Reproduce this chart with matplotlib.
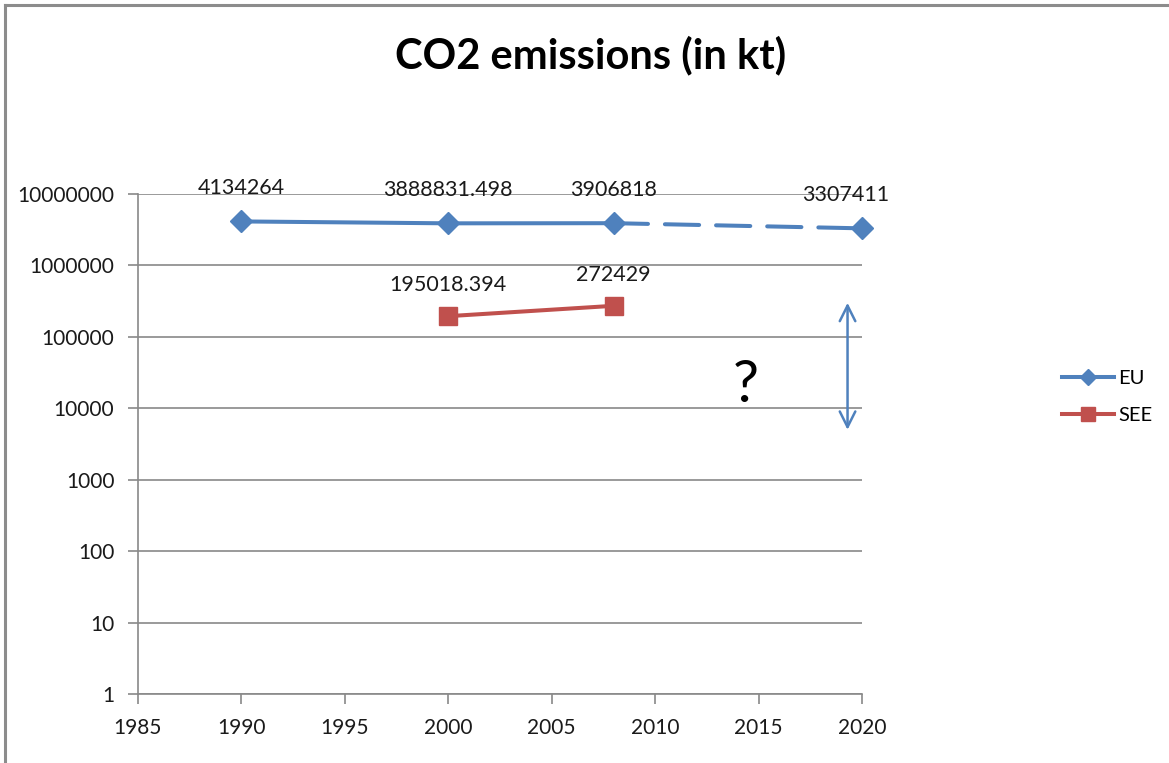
import matplotlib.pyplot as plt
from matplotlib.lines import Line2D
from matplotlib.ticker import FixedLocator, FuncFormatter

plt.rcParams['font.family'] = ['Lato', 'DejaVu Sans']

# EU emissions, solid up to 2008, projected after that
eu_years = [1990, 2000, 2008, 2020]
eu_values = [4134264, 3888831.498, 3906818, 3307411]
eu_labels = ['4134264', '3888831.498', '3906818', '3307411']

see_years = [2000, 2008]
see_values = [195018.394, 272429]
see_labels = ['195018.394', '272429']

x_ticks = [1985, 1990, 1995, 2000, 2005, 2010, 2015, 2020]
y_ticks = [1, 10, 100, 1000, 10000, 100000, 1000000, 10000000]

blue = '#4F81BD'
red = '#C0504D'
grid_gray = '#898989'

fig = plt.figure(figsize=(11.69, 7.63), dpi=100)
ax = fig.add_axes([0.118, 0.0904, 0.6194, 0.6553])

# solid part and dashed projection
ax.plot(eu_years[:3], eu_values[:3], color=blue, lw=2.9, solid_capstyle='round', zorder=3)
ax.plot(eu_years[2:], eu_values[2:], color=blue, lw=2.9, dashes=(8.5, 4.2),
        dash_capstyle='round', zorder=3, clip_on=False)
ax.plot(eu_years, eu_values, ls='none', marker='D', ms=11, color=blue, zorder=4,
        clip_on=False)
ax.plot(see_years, see_values, color=red, lw=2.9, marker='s', ms=13, zorder=4)

for x, y, t in zip(eu_years, eu_values, eu_labels):
    dx = -12 if x == 2020 else 0
    ax.annotate(t, (x, y), xytext=(dx, 17), textcoords='offset points',
                ha='center', va='bottom', fontsize=15.5, color='#1a1a1a')
for x, y, t in zip(see_years, see_values, see_labels):
    ax.annotate(t, (x, y), xytext=(0, 15), textcoords='offset points',
                ha='center', va='bottom', fontsize=15.5, color='#1a1a1a')

# uncertainty range for 2020
ax.annotate('', xy=(2019.3, 5000), xytext=(2019.3, 300000),
            arrowprops=dict(arrowstyle='<->', color=blue, lw=1.8,
                            mutation_scale=28, shrinkA=0, shrinkB=0))
ax.text(2014.4, 21000, '?', fontsize=42, ha='center', va='center', color='black')

ax.set_yscale('log')
ax.set_xlim(1985, 2020)
ax.set_ylim(1, 10000000)
ax.yaxis.set_major_locator(FixedLocator(y_ticks))
ax.yaxis.set_minor_locator(FixedLocator([]))
ax.yaxis.set_major_formatter(FuncFormatter(lambda v, p: '%d' % round(v)))
ax.set_xticks(x_ticks)

ax.grid(axis='y', color=grid_gray, lw=1.2)
ax.set_axisbelow(True)
for s in ['top', 'right']:
    ax.spines[s].set_visible(False)
for s in ['left', 'bottom']:
    ax.spines[s].set_color(grid_gray)
    ax.spines[s].set_linewidth(1.2)
ax.tick_params(axis='both', colors=grid_gray, length=7, width=1.2,
               labelsize=15, labelcolor='#1a1a1a', direction='out')
ax.tick_params(axis='y', pad=10)
ax.tick_params(axis='x', pad=10)

handles = [Line2D([], [], color=blue, lw=2.9, marker='D', ms=8),
           Line2D([], [], color=red, lw=2.9, marker='s', ms=10)]
fig.legend(handles, ['EU', 'SEE'], loc='center left', bbox_to_anchor=(0.893, 0.48),
           frameon=False, fontsize=14.5, handlelength=2.6, labelspacing=1.0,
           handletextpad=0.2)

fig.text(0.505, 0.928, 'CO2 emissions (in kt)', ha='center', va='center',
         fontsize=30, fontweight='bold')

# chart frame
fig.add_artist(Line2D([5 / 1169, 5 / 1169], [0, 1 - 5 / 763], color='#8c8c8c', lw=2.2))
fig.add_artist(Line2D([5 / 1169, 1], [1 - 5 / 763, 1 - 5 / 763], color='#8c8c8c', lw=2.2))

fig.savefig('out.png', dpi=100)
